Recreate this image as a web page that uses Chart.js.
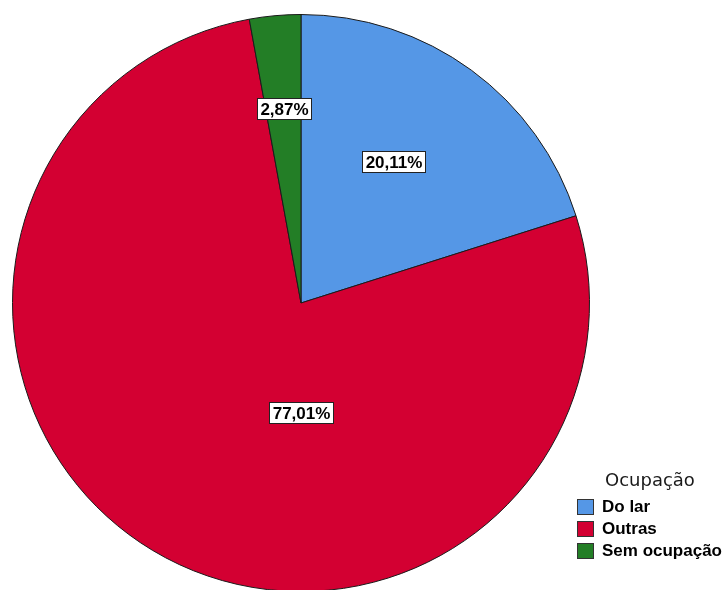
<!DOCTYPE html>
<html>
<head>
<meta charset="utf-8">
<script src="https://cdn.jsdelivr.net/npm/chart.js@4"></script>
<style>
  html, body { margin: 0; padding: 0; background: #fff; overflow: hidden; }
  #wrap { position: relative; width: 726px; height: 590px; overflow: hidden; }
  #legend { position: absolute; left: 577px; top: 467px; font-family: "Liberation Sans", Arial, sans-serif; color: #000; }
  #legend .title { font-family: "DejaVu Sans", sans-serif; font-size: 18px; color: #1a1a1a; margin-left: 28px; height: 29px; line-height: 26px; }
  #legend .item { display: flex; align-items: center; height: 22px; font-weight: bold; font-size: 17px; white-space: nowrap; }
  #legend .box { width: 17px; height: 16px; border: 1px solid #333; margin-right: 8px; box-sizing: border-box; }
</style>
</head>
<body>
<div id="wrap">
  <canvas id="pie" width="726" height="600"></canvas>
  <div id="legend"></div>
</div>
<script>
const legendTitle = 'Ocupação';
const categories = ['Do lar', 'Outras', 'Sem ocupação'];
const percents = [20.11, 77.01, 2.87];
const colors = ['#5597e6', '#d30032', '#237e26'];

// where each value box sits: fraction of radius, canvas angle in degrees
const labelSpots = [
  { r: 0.586, deg: -56.7 },
  { r: 0.378, deg: 90 },
  { r: 0.676, deg: -95 }
];

const pctText = (v) => v.toFixed(2).replace('.', ',') + '%';

const valueBoxes = {
  id: 'valueBoxes',
  afterDatasetsDraw(chart) {
    const ctx = chart.ctx;
    const arcs = chart.getDatasetMeta(0).data;
    ctx.save();
    ctx.font = 'bold 17px "Liberation Sans", Arial, sans-serif';
    ctx.textAlign = 'center';
    ctx.textBaseline = 'middle';
    arcs.forEach((arc, i) => {
      const { x, y, outerRadius } = arc.getProps(['x', 'y', 'outerRadius'], true);
      const spot = labelSpots[i];
      const a = spot.deg * Math.PI / 180;
      const cx = x + Math.cos(a) * outerRadius * spot.r;
      const cy = y + Math.sin(a) * outerRadius * spot.r;
      const txt = pctText(percents[i]);
      const w = Math.round(ctx.measureText(txt).width) + 6;
      const h = 21;
      const bx = Math.round(cx - w / 2) + 0.5;
      const by = Math.round(cy - h / 2) + 0.5;
      ctx.fillStyle = '#fff';
      ctx.fillRect(bx, by, w, h);
      ctx.strokeStyle = '#222';
      ctx.lineWidth = 1;
      ctx.strokeRect(bx, by, w, h);
      ctx.fillStyle = '#000';
      ctx.fillText(txt, bx + w / 2, by + h / 2 + 1);
    });
    ctx.restore();
  }
};

new Chart(document.getElementById('pie'), {
  type: 'pie',
  data: {
    labels: categories,
    datasets: [{
      data: percents,
      backgroundColor: colors,
      borderColor: '#1a1a1a',
      borderWidth: 1
    }]
  },
  options: {
    responsive: false,
    animation: false,
    devicePixelRatio: 1,
    layout: { padding: { left: 12, top: 14, right: 136, bottom: 8 } },
    plugins: {
      legend: { display: false },
      tooltip: { enabled: false }
    }
  },
  plugins: [valueBoxes]
});

// legend block on the lower right
const legend = document.getElementById('legend');
let html = '<div class="title">' + legendTitle + '</div>';
categories.forEach((c, i) => {
  html += '<div class="item"><span class="box" style="background:' + colors[i] + '"></span>' + c + '</div>';
});
legend.innerHTML = html;
</script>
</body>
</html>
